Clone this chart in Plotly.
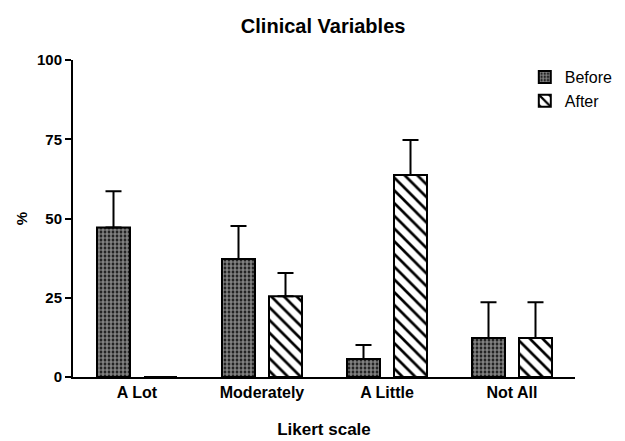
import plotly.graph_objects as go

categories = ["A Lot", "Moderately", "A Little", "Not All"]
before = [47.2, 37.2, 5.7, 12.3]
before_err = [11.4, 10.4, 4.4, 11.3]
after = [0.0, 25.5, 63.7, 12.3]
after_err = [0.0, 7.3, 11.1, 11.3]

xpos = list(range(len(categories)))
font = "Liberation Sans, Arial, sans-serif"

fig = go.Figure()
fig.add_trace(go.Bar(
    x=xpos, y=before, name="Before", offset=-0.32, width=0.264,
    marker=dict(color="black", line=dict(color="black", width=2),
                pattern=dict(shape=".", bgcolor="black", fgcolor="white",
                             size=4, solidity=0.7, fillmode="overlay")),
    error_y=dict(type="data", symmetric=False, array=before_err,
                 arrayminus=[0] * 4, color="black", thickness=2, width=8),
))
fig.add_trace(go.Bar(
    x=xpos, y=after, name="After", offset=0.056, width=0.264,
    marker=dict(color="white", line=dict(color="black", width=2),
                pattern=dict(shape="\\", bgcolor="white", fgcolor="black",
                             size=9, solidity=0.3, fillmode="replace")),
    error_y=dict(type="data", symmetric=False, array=after_err,
                 arrayminus=[0] * 4, color="black", thickness=2, width=8),
))

fig.update_layout(
    width=625, height=441,
    margin=dict(l=73, r=50, t=60, b=64, autoexpand=False),
    paper_bgcolor="white", plot_bgcolor="white",
    barmode="overlay",
    title=dict(text="Clinical Variables", x=0.517, xanchor="center",
               y=0.94, yanchor="middle",
               font=dict(family=font, size=20, color="black", weight="bold")),
    font=dict(family=font, color="black"),
    showlegend=True,
    legend=dict(x=0.9, y=1.0, xanchor="left", yanchor="top",
                font=dict(family=font, size=16, color="black"),
                bgcolor="rgba(0,0,0,0)", tracegroupgap=0, itemwidth=30),
)
fig.update_xaxes(
    range=[-0.512, 3.504], tickvals=xpos, ticktext=categories,
    showline=True, linecolor="black", linewidth=2, ticks="",
    showgrid=False, zeroline=False, automargin=False,
    tickfont=dict(family=font, size=16, color="black", weight="bold"),
    title=dict(text="Likert scale", standoff=23,
               font=dict(family=font, size=17, color="black", weight="bold")),
)
fig.update_yaxes(
    range=[0, 100], tickvals=[0, 25, 50, 75, 100],
    showline=True, linecolor="black", linewidth=2, ticks="outside",
    ticklen=6, tickwidth=2, tickcolor="black",
    showgrid=False, zeroline=False, automargin=False,
    tickfont=dict(family=font, size=15, color="black", weight="bold"),
    title=dict(text="%", standoff=6,
               font=dict(family=font, size=15, color="black", weight="bold")),
)

fig.write_html(
    "out.html",
    config={"displayModeBar": False},
    post_script="document.body.style.margin='0';document.body.style.overflow='hidden';",
)
